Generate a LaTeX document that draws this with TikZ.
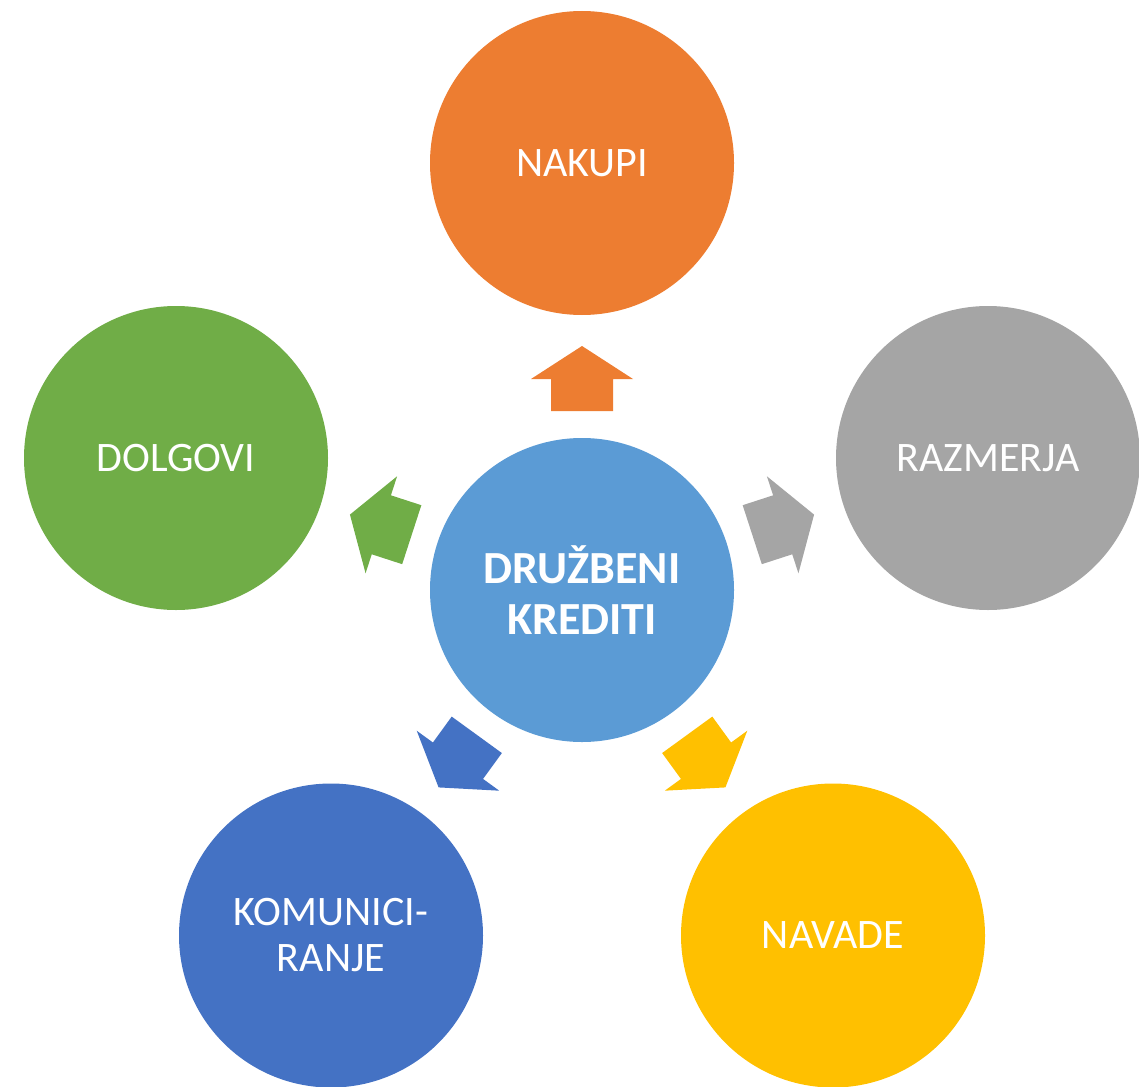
\documentclass[tikz,border=0pt]{standalone}
\usepackage{fontspec}
\setmainfont{Carlito}
\definecolor{cOrange}{HTML}{ED7D31}
\definecolor{cGrey}{HTML}{A5A5A5}
\definecolor{cGreen}{HTML}{70AD47}
\definecolor{cBlue}{HTML}{4472C4}
\definecolor{cGold}{HTML}{FFC000}
\definecolor{cCenter}{HTML}{5B9BD5}
\begin{document}
\begin{tikzpicture}[x=1pt,y=-1pt,
  circ/.style={circle, minimum size=304pt, inner sep=0pt, text=white,
    font=\fontsize{42}{46}\selectfont, align=center},
  blockarrow/.pic={\fill[pic actions] (179,-31) -- (211,-31) -- (211,-51) -- (244,0) -- (211,51) -- (211,31) -- (179,31) -- cycle;}
]
\useasboundingbox (0,0) rectangle (1139,1086);
\clip (0,0) rectangle (1139,1086);
\node[circ, fill=cCenter, font=\fontsize{46}{51}\selectfont\bfseries] (ctr) at (582,590) {DRUŽBENI\\KREDITI};
\node[circ, fill=cOrange] (nakupi) at (582,163) {NAKUPI};
\node[circ, fill=cGrey] (razmerja) at (988,458) {RAZMERJA};
\node[circ, fill=cGreen] (dolgovi) at (176,458) {DOLGOVI};
\node[circ, fill=cBlue] (komun) at (331,935.5) {KOMUNICI-\\RANJE};
\node[circ, fill=cGold] (navade) at (833,935.5) {NAVADE};
\pic[fill=cOrange, shift={(ctr.center)}, rotate=90] {blockarrow};
\pic[fill=cGrey, shift={(ctr.center)}, rotate=18] {blockarrow};
\pic[fill=cGreen, shift={(ctr.center)}, rotate=162] {blockarrow};
\pic[fill=cBlue, shift={(ctr.center)}, rotate=234] {blockarrow};
\pic[fill=cGold, shift={(ctr.center)}, rotate=306] {blockarrow};
\end{tikzpicture}
\end{document}
